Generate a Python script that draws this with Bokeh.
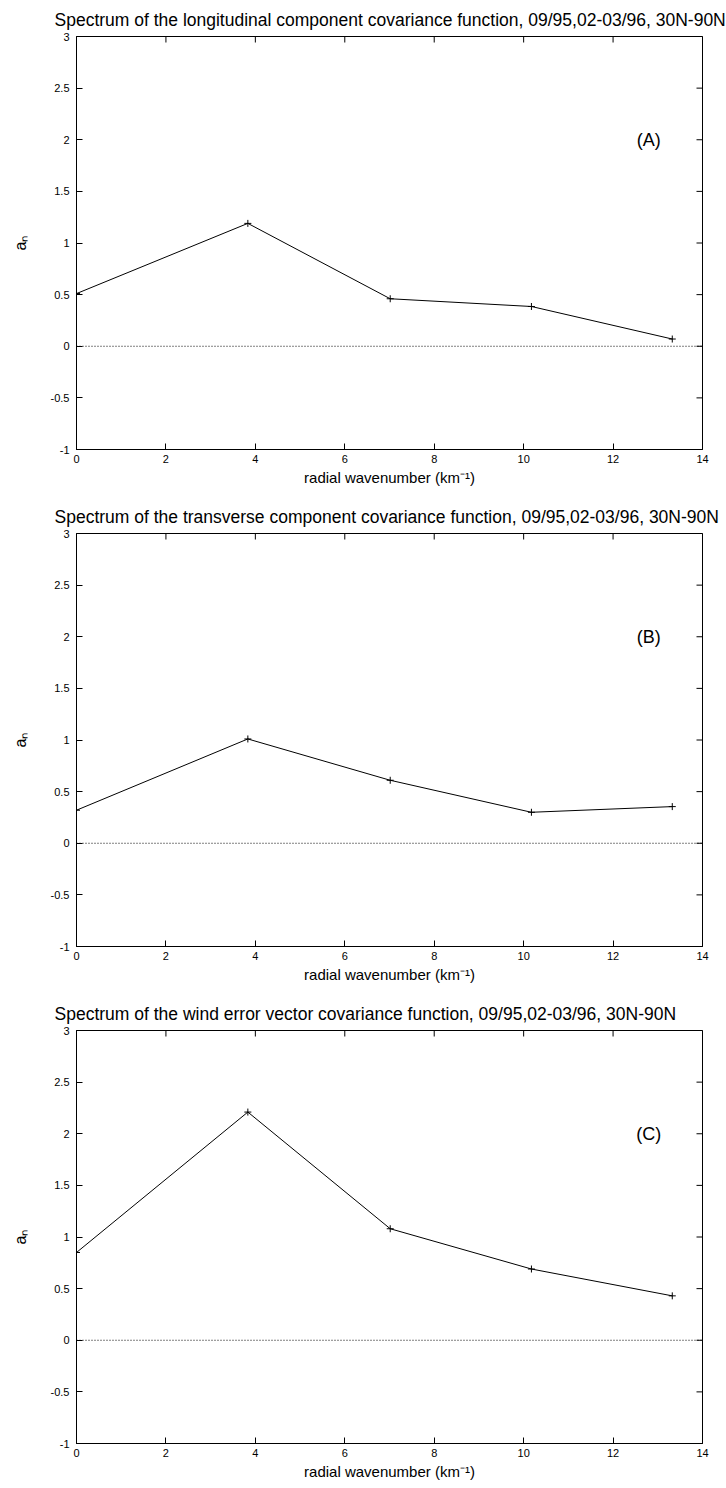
import math
from bokeh.plotting import figure
from bokeh.models import Span, Label, FixedTicker
from bokeh.layouts import column
from bokeh.embed import file_html
from bokeh.resources import INLINE

# ---- data ----
wavenumber = [0.0, 3.832, 7.016, 10.174, 13.324]
a_longitudinal = [0.51, 1.19, 0.46, 0.385, 0.07]
a_transverse = [0.32, 1.01, 0.61, 0.30, 0.355]
a_wind_vector = [0.85, 2.21, 1.08, 0.69, 0.43]

x_ticks = [0, 2, 4, 6, 8, 10, 12, 14]
x_tick_labels = ["0", "2", "4", "6", "8", "10", "12", "14"]
y_ticks = [-1, -0.5, 0, 0.5, 1, 1.5, 2, 2.5, 3]
y_tick_labels = ["-1", "-0.5", "0", "0.5", "1", "1.5", "2", "2.5", "3"]

titles = [
    "Spectrum of the longitudinal component covariance function, 09/95,02-03/96, 30N-90N",
    "Spectrum of the transverse component covariance function, 09/95,02-03/96, 30N-90N",
    "Spectrum of the wind error vector covariance function, 09/95,02-03/96, 30N-90N",
]
panel_tags = ["(A)", "(B)", "(C)"]
tag_pos = (12.8, 2.0)
x_label = "radial wavenumber (km\u207b\u00b9)"
y_label = "a\u2099"

FONT = "Liberation Sans"


def style_axis(ax, ticks, labels):
    ax.ticker = FixedTicker(ticks=ticks)
    ax.major_label_overrides = {t: l for t, l in zip(ticks, labels)}
    ax.major_tick_in = 6
    ax.major_tick_out = 0
    ax.minor_tick_in = 0
    ax.minor_tick_out = 0
    ax.axis_line_color = "black"
    ax.axis_line_width = 1
    ax.major_tick_line_color = "black"
    ax.major_tick_line_width = 1
    ax.major_label_text_font = FONT
    ax.major_label_text_color = "black"
    ax.major_label_text_font_size = "11px"
    ax.axis_label_text_font = FONT
    ax.axis_label_text_font_style = "normal"
    ax.axis_label_text_color = "black"


def make_panel(title, values, tag, title_offset, height, bottom):
    p = figure(width=726, height=height, output_backend="svg", toolbar_location=None,
               x_range=(x_ticks[0], x_ticks[-1]), y_range=(y_ticks[0], y_ticks[-1]),
               min_border_left=76, min_border_right=24,
               min_border_top=35, min_border_bottom=bottom)
    p.title.text = title
    p.title.text_font = FONT
    p.title.text_font_size = "17.5px"
    p.title.text_font_style = "normal"
    p.title.text_color = "black"
    p.title.align = "left"
    p.title.offset = title_offset
    p.title.standoff = 14
    p.grid.visible = False
    p.outline_line_color = "black"
    p.outline_line_width = 1
    p.background_fill_color = "white"
    p.border_fill_color = "white"

    style_axis(p.xaxis[0], x_ticks, x_tick_labels)
    style_axis(p.yaxis[0], y_ticks, y_tick_labels)
    p.xaxis[0].major_label_standoff = 5
    p.yaxis[0].major_label_standoff = 7
    p.xaxis[0].axis_label = x_label
    p.yaxis[0].axis_label = y_label
    p.xaxis[0].axis_label_text_font_size = "15px"
    p.yaxis[0].axis_label_text_font_size = "16px"
    p.xaxis[0].axis_label_standoff = 3
    p.yaxis[0].axis_label_standoff = 19

    # mirrored inward ticks on the top and right frame edges (clipped to the frame)
    p.scatter(x_ticks, [y_ticks[-1]] * len(x_ticks), marker="dash", size=12,
              angle=math.pi / 2, line_color="black", line_width=1)
    p.scatter([x_ticks[-1]] * len(y_ticks), y_ticks, marker="dash", size=12,
              line_color="black", line_width=1)

    p.add_layout(Span(location=0, dimension="width", line_color="black",
                      line_width=1, line_dash="1 2"))
    p.line(wavenumber, values, line_color="black", line_width=1)
    p.scatter(wavenumber, values, marker="cross", size=7, line_color="black", line_width=1)

    p.add_layout(Label(x=tag_pos[0], y=tag_pos[1], text=tag, text_align="center",
                       text_baseline="middle", text_font=FONT, text_font_size="18px",
                       text_color="black"))
    return p


p1 = make_panel(titles[0], a_longitudinal, panel_tags[0], -22, 497, 48)
p2 = make_panel(titles[1], a_transverse, panel_tags[1], -22, 497, 48)
p3 = make_panel(titles[2], a_wind_vector, panel_tags[2], -22, 494, 45)

layout = column(p1, p2, p3, spacing=0)
open("out.html", "w").write(file_html(layout, INLINE))
